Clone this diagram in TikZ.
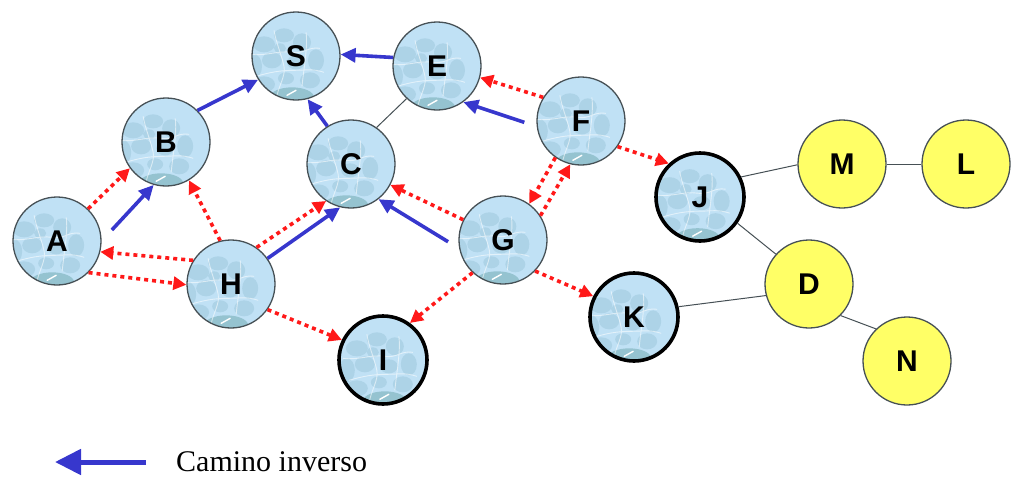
\documentclass[tikz,border=0pt]{standalone}
\usepackage{fontspec}
\setmainfont{Liberation Serif}
\newfontfamily\labelfont{Liberation Sans}
\usetikzlibrary{arrows.meta}

\definecolor{rockbase}{RGB}{192,225,245}
\definecolor{rockblob}{RGB}{150,194,215}
\definecolor{rockdark}{RGB}{135,185,196}
\definecolor{nodeyellow}{RGB}{255,255,102}
\definecolor{pathblue}{RGB}{55,55,205}
\definecolor{searchred}{RGB}{255,25,25}
\definecolor{rimgray}{RGB}{70,80,85}

\tikzset{
  rocktex/.style={path picture={
    \begin{scope}[shift={(path picture bounding box.center)}]
      \fill[rockblob, opacity=.45]
        (-22pt,22pt) ellipse [x radius=11pt, y radius=8pt]
        (-2pt,31pt) ellipse [x radius=10pt, y radius=7pt]
        (16pt,24pt) ellipse [x radius=9pt, y radius=9pt]
        (30pt,6pt) ellipse [x radius=8pt, y radius=11pt]
        (-32pt,0pt) ellipse [x radius=8pt, y radius=12pt]
        (-14pt,6pt) ellipse [x radius=10pt, y radius=8pt]
        (10pt,4pt) ellipse [x radius=9pt, y radius=7pt]
        (-22pt,-18pt) ellipse [x radius=11pt, y radius=8pt]
        (24pt,-14pt) ellipse [x radius=10pt, y radius=8pt]
        (0pt,-12pt) ellipse [x radius=8pt, y radius=6pt]
        (-6pt,18pt) ellipse [x radius=6pt, y radius=5pt];
      \fill[rockdark, opacity=.75] (6pt,-31pt) ellipse [x radius=22pt, y radius=10pt];
      \draw[white, line width=1.4pt, line cap=round] (1pt,-29pt) -- (10pt,-24pt);
      \draw[white, opacity=.55, line width=.9pt]
        (-36pt,12pt) .. controls (-20pt,10pt) and (-8pt,16pt) .. (6pt,14pt)
        .. controls (18pt,12pt) and (22pt,20pt) .. (34pt,18pt)
        (-30pt,-10pt) .. controls (-16pt,-6pt) and (-6pt,-4pt) .. (8pt,-4pt)
        .. controls (20pt,-4pt) and (26pt,-2pt) .. (38pt,-6pt)
        (-12pt,36pt) .. controls (-10pt,24pt) and (-4pt,10pt) .. (-2pt,0pt)
        .. controls (0pt,-10pt) and (-8pt,-20pt) .. (-10pt,-34pt)
        (20pt,34pt) .. controls (22pt,20pt) and (18pt,0pt) .. (16pt,-20pt);
    \end{scope}}},
  vtx/.style={circle, minimum size=88pt, inner sep=0pt, draw=rimgray,
    line width=1.3pt, font=\labelfont\bfseries\fontsize{30pt}{30pt}\selectfont},
  stone/.style={vtx, fill=rockbase, rocktex},
  goal/.style={stone, draw=black, line width=3.6pt},
  sun/.style={vtx, fill=nodeyellow},
  back/.style={draw=pathblue, line width=3.6pt, -{Triangle[length=15pt,width=14pt]}},
  probe/.style={draw=searchred, line width=3.6pt, dash pattern=on 4pt off 4pt,
    -{Triangle[length=13pt,width=13pt]}},
  link/.style={draw=rimgray, line width=1pt},
}

\begin{document}
\begin{tikzpicture}[x=1pt, y=-1pt]
  \useasboundingbox (0,0) rectangle (1011,477);

  % search tree nodes
  \node[stone] (S) at (296,56)  {S};
  \node[stone] (E) at (437,66)  {E};
  \node[stone] (B) at (166,142) {B};
  \node[stone] (C) at (351,164) {C};
  \node[stone] (A) at (57,241)  {A};
  \node[stone] (H) at (231,284) {H};
  \node[goal]  (I) at (383,360) {I};
  \node[stone] (G) at (503,240) {G};
  \node[stone] (F) at (581,121) {F};
  \node[goal]  (J) at (700,197) {J};
  \node[goal]  (K) at (634,317) {K};
  \node[sun]   (M) at (842,164) {M};
  \node[sun]   (L) at (966,164) {L};
  \node[sun]   (D) at (809,284) {D};
  \node[sun]   (N) at (907,361) {N};

  % plain links
  \draw[link] (C.55)  -- (E.227);
  \draw[link] (J.26)  -- (M.181);
  \draw[link] (M.0)   -- (L.180);
  \draw[link] (J.325) -- (D.138);
  \draw[link] (K.13)  -- (D.195);
  \draw[link] (D.315) -- (N.134);

  % forward exploration
  \draw[probe] (A.46)  -- (B.216);
  \draw[probe] (H.148) -- (A.346);
  \draw[probe] (A.315) -- (H.181);
  \draw[probe] (H.104) -- (B.301);
  \draw[probe] (H.55)  -- (C.236);
  \draw[probe] (G.153) -- (C.332);
  \draw[probe] (F.148) -- (E.345);
  \draw[probe] (F.325) -- (J.133);
  \draw[probe] (F.235) -- (G.54);
  \draw[probe] (G.33)  -- (F.256);
  \draw[probe] (G.227) -- (I.54);
  \draw[probe] (G.316) -- (K.153);
  \draw[probe] (H.325) -- (I.154);

  % reverse path
  \draw[back] (B.45)  -- (S.212);
  \draw[back] (E.169) -- (S.2);
  \draw[back] (C.122) -- (S.285);
  \draw[back, shorten <=15pt] (A.0) -- (B.254);
  \draw[back] (H.35)  -- (C.256);
  \draw[back, shorten <=13pt] (G.191) -- (C.308);
  \draw[back, shorten <=13pt] (F.187) -- (E.306);

  % legend
  \coordinate (legtail) at (146,462);
  \coordinate (leghead) at (55,462);
  \draw[draw=pathblue, line width=5pt, -{Triangle[length=26pt,width=25pt]}] (legtail) -- (leghead);
  \node[anchor=base west, inner sep=0pt, font=\fontsize{30pt}{30pt}\selectfont] (legtext) at (176,471) {Camino inverso};
\end{tikzpicture}
\end{document}
